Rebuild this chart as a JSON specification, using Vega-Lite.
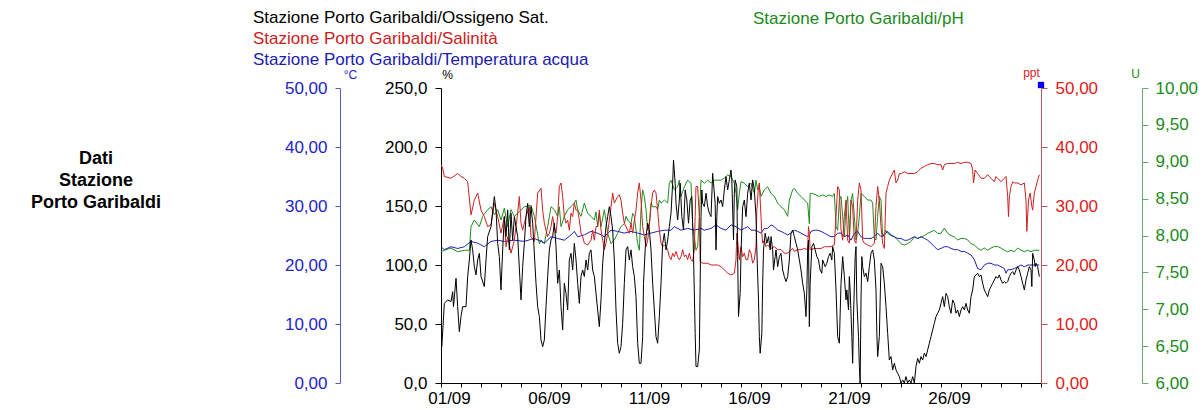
{
"$schema":"https://vega.github.io/schema/vega-lite/v6.json",
"width":600,"height":295,
"autosize":{"type":"none"},
"padding":{"left":441,"top":88,"right":163,"bottom":27},
"background":"white",
"config":{"view":{"stroke":null},"font":"Liberation Sans","axis":{"grid":false,"labelFont":"Liberation Sans","labelFontSize":17,"titleFont":"Liberation Sans","titleFontWeight":"normal","titleFontSize":12}},
"title":{"text":["Dati","Stazione","Porto Garibaldi"],"orient":"top","anchor":"start","frame":"group","align":"center","baseline":"top","dx":-345,"dy":203,"offset":0,"font":"Liberation Sans","fontSize":18,"fontWeight":"bold","color":"black","lineHeight":22},
"datasets":{
"ox":[
{"t":"2024-09-01T00:00","v":33.7},{"t":"2024-09-01T01:00","v":30.8},{"t":"2024-09-01T04:00","v":67.5},{"t":"2024-09-01T08:00","v":70.4},{"t":"2024-09-01T12:00","v":69.0},{"t":"2024-09-01T14:00","v":77.4},{"t":"2024-09-01T15:00","v":64.7},{"t":"2024-09-01T18:00","v":88.7},{"t":"2024-09-01T20:00","v":64.7},{"t":"2024-09-01T22:00","v":43.5},
{"t":"2024-09-02T00:00","v":56.3},{"t":"2024-09-02T02:00","v":64.7},{"t":"2024-09-02T06:00","v":64.7},{"t":"2024-09-02T08:00","v":90.2},{"t":"2024-09-02T10:00","v":104.3},{"t":"2024-09-02T12:00","v":121.2},{"t":"2024-09-02T14:00","v":112.8},{"t":"2024-09-02T16:00","v":98.6},{"t":"2024-09-02T18:00","v":91.6},{"t":"2024-09-02T20:00","v":104.3},{"t":"2024-09-02T22:00","v":109.9},
{"t":"2024-09-03T00:00","v":90.2},{"t":"2024-09-03T04:00","v":81.7},{"t":"2024-09-03T06:00","v":104.3},{"t":"2024-09-03T08:00","v":124.1},{"t":"2024-09-03T12:00","v":132.5},{"t":"2024-09-03T16:00","v":158.0},{"t":"2024-09-03T18:00","v":146.7},{"t":"2024-09-03T20:00","v":118.4},{"t":"2024-09-03T22:00","v":107.1},
{"t":"2024-09-04T00:00","v":78.9},{"t":"2024-09-04T02:00","v":112.8},{"t":"2024-09-04T04:00","v":141.0},{"t":"2024-09-04T06:00","v":124.1},{"t":"2024-09-04T08:00","v":146.7},{"t":"2024-09-04T10:00","v":112.8},{"t":"2024-09-04T12:00","v":143.8},{"t":"2024-09-04T14:00","v":121.2},{"t":"2024-09-04T16:00","v":141.0},{"t":"2024-09-04T20:00","v":124.1},
{"t":"2024-09-05T00:00","v":70.4},{"t":"2024-09-05T02:00","v":98.6},{"t":"2024-09-05T04:00","v":118.4},{"t":"2024-09-05T06:00","v":141.0},{"t":"2024-09-05T08:00","v":152.3},{"t":"2024-09-05T10:00","v":132.5},{"t":"2024-09-05T12:00","v":149.5},{"t":"2024-09-05T14:00","v":135.4},{"t":"2024-09-05T18:00","v":84.5},{"t":"2024-09-05T20:00","v":64.7},{"t":"2024-09-05T22:00","v":56.3},
{"t":"2024-09-06T00:00","v":36.5},{"t":"2024-09-06T02:00","v":30.8},{"t":"2024-09-06T04:00","v":36.5},{"t":"2024-09-06T06:00","v":64.7},{"t":"2024-09-06T08:00","v":90.2},{"t":"2024-09-06T10:00","v":112.8},{"t":"2024-09-06T12:00","v":121.2},{"t":"2024-09-06T14:00","v":124.1},{"t":"2024-09-06T16:00","v":135.4},{"t":"2024-09-06T18:00","v":115.6},{"t":"2024-09-06T20:00","v":84.5},{"t":"2024-09-06T22:00","v":95.8},
{"t":"2024-09-07T00:00","v":64.7},{"t":"2024-09-07T02:00","v":45.0},{"t":"2024-09-07T04:00","v":84.5},{"t":"2024-09-07T06:00","v":76.0},{"t":"2024-09-07T08:00","v":61.9},{"t":"2024-09-07T10:00","v":104.3},{"t":"2024-09-07T12:00","v":109.9},{"t":"2024-09-07T14:00","v":95.8},{"t":"2024-09-07T16:00","v":118.4},{"t":"2024-09-07T18:00","v":104.3},{"t":"2024-09-07T20:00","v":84.5},{"t":"2024-09-07T22:00","v":67.5},
{"t":"2024-09-08T00:00","v":90.2},{"t":"2024-09-08T02:00","v":95.8},{"t":"2024-09-08T04:00","v":90.2},{"t":"2024-09-08T06:00","v":104.3},{"t":"2024-09-08T08:00","v":95.8},{"t":"2024-09-08T10:00","v":109.9},{"t":"2024-09-08T12:00","v":112.8},{"t":"2024-09-08T14:00","v":95.8},{"t":"2024-09-08T16:00","v":90.2},{"t":"2024-09-08T18:00","v":76.0},{"t":"2024-09-08T20:00","v":61.9},{"t":"2024-09-08T22:00","v":47.8},
{"t":"2024-09-09T00:00","v":70.4},{"t":"2024-09-09T02:00","v":101.5},{"t":"2024-09-09T04:00","v":118.4},{"t":"2024-09-09T06:00","v":132.5},{"t":"2024-09-09T08:00","v":141.0},{"t":"2024-09-09T10:00","v":149.5},{"t":"2024-09-09T12:00","v":141.0},{"t":"2024-09-09T14:00","v":129.7},{"t":"2024-09-09T16:00","v":104.3},{"t":"2024-09-09T18:00","v":61.9},{"t":"2024-09-09T20:00","v":33.7},{"t":"2024-09-09T22:00","v":25.2},
{"t":"2024-09-10T00:00","v":30.8},{"t":"2024-09-10T02:00","v":50.6},{"t":"2024-09-10T04:00","v":84.5},{"t":"2024-09-10T06:00","v":112.8},{"t":"2024-09-10T08:00","v":115.6},{"t":"2024-09-10T10:00","v":104.3},{"t":"2024-09-10T12:00","v":112.8},{"t":"2024-09-10T14:00","v":98.6},{"t":"2024-09-10T16:00","v":90.2},{"t":"2024-09-10T18:00","v":73.2},{"t":"2024-09-10T20:00","v":33.7},{"t":"2024-09-10T22:00","v":16.7},
{"t":"2024-09-11T00:00","v":16.7},{"t":"2024-09-11T02:00","v":39.3},{"t":"2024-09-11T03:00","v":84.5},{"t":"2024-09-11T05:00","v":112.8},{"t":"2024-09-11T06:00","v":124.1},{"t":"2024-09-11T08:00","v":135.4},{"t":"2024-09-11T10:00","v":129.7},{"t":"2024-09-11T12:00","v":112.8},{"t":"2024-09-11T14:00","v":84.5},{"t":"2024-09-11T16:00","v":61.9},{"t":"2024-09-11T18:00","v":39.3},{"t":"2024-09-11T20:00","v":33.7},{"t":"2024-09-11T22:00","v":56.3},
{"t":"2024-09-12T00:00","v":84.5},{"t":"2024-09-12T02:00","v":118.4},{"t":"2024-09-12T04:00","v":126.9},{"t":"2024-09-12T06:00","v":112.8},{"t":"2024-09-12T08:00","v":121.2},{"t":"2024-09-12T10:00","v":132.5},{"t":"2024-09-12T12:00","v":143.8},{"t":"2024-09-12T14:00","v":169.3},{"t":"2024-09-12T15:00","v":189.0},{"t":"2024-09-12T17:00","v":169.3},{"t":"2024-09-12T18:00","v":152.3},{"t":"2024-09-12T20:00","v":138.2},{"t":"2024-09-12T22:00","v":155.1},{"t":"2024-09-12T23:00","v":169.3},
{"t":"2024-09-13T01:00","v":141.0},{"t":"2024-09-13T03:00","v":129.7},{"t":"2024-09-13T05:00","v":163.6},{"t":"2024-09-13T07:00","v":155.1},{"t":"2024-09-13T09:00","v":135.4},{"t":"2024-09-13T11:00","v":155.1},{"t":"2024-09-13T13:00","v":158.0},{"t":"2024-09-13T15:00","v":109.9},{"t":"2024-09-13T17:00","v":42.1},{"t":"2024-09-13T18:00","v":13.9},{"t":"2024-09-13T20:00","v":13.9},{"t":"2024-09-13T22:00","v":28.0},{"t":"2024-09-13T23:00","v":84.5},
{"t":"2024-09-14T00:00","v":141.0},{"t":"2024-09-14T01:00","v":163.6},{"t":"2024-09-14T02:00","v":152.3},{"t":"2024-09-14T04:00","v":149.5},{"t":"2024-09-14T06:00","v":160.8},{"t":"2024-09-14T08:00","v":149.5},{"t":"2024-09-14T10:00","v":143.8},{"t":"2024-09-14T12:00","v":141.0},{"t":"2024-09-14T14:00","v":177.7},{"t":"2024-09-14T15:00","v":169.3},{"t":"2024-09-14T17:00","v":152.3},{"t":"2024-09-14T18:00","v":112.8},{"t":"2024-09-14T19:00","v":141.0},{"t":"2024-09-14T20:00","v":158.0},{"t":"2024-09-14T22:00","v":152.3},
{"t":"2024-09-15T00:00","v":155.1},{"t":"2024-09-15T02:00","v":149.5},{"t":"2024-09-15T04:00","v":163.6},{"t":"2024-09-15T06:00","v":174.9},{"t":"2024-09-15T08:00","v":163.6},{"t":"2024-09-15T10:00","v":172.1},{"t":"2024-09-15T12:00","v":180.5},{"t":"2024-09-15T13:00","v":172.1},{"t":"2024-09-15T15:00","v":121.2},{"t":"2024-09-15T16:00","v":160.8},{"t":"2024-09-15T17:00","v":172.1},{"t":"2024-09-15T19:00","v":166.4},{"t":"2024-09-15T20:00","v":107.1},{"t":"2024-09-15T21:00","v":56.3},{"t":"2024-09-15T23:00","v":76.0},
{"t":"2024-09-16T00:00","v":110.0},{"t":"2024-09-16T02:00","v":149.5},{"t":"2024-09-16T04:00","v":155.1},{"t":"2024-09-16T06:00","v":141.0},{"t":"2024-09-16T08:00","v":160.8},{"t":"2024-09-16T10:00","v":169.3},{"t":"2024-09-16T12:00","v":155.1},{"t":"2024-09-16T14:00","v":172.1},{"t":"2024-09-16T16:00","v":163.6},{"t":"2024-09-16T18:00","v":141.0},{"t":"2024-09-16T19:00","v":112.8},{"t":"2024-09-16T21:00","v":70.4},{"t":"2024-09-16T22:00","v":39.3},{"t":"2024-09-16T23:00","v":25.2},
{"t":"2024-09-17T01:00","v":42.1},{"t":"2024-09-17T02:00","v":84.5},{"t":"2024-09-17T03:00","v":112.8},{"t":"2024-09-17T05:00","v":126.9},{"t":"2024-09-17T07:00","v":118.4},{"t":"2024-09-17T09:00","v":124.1},{"t":"2024-09-17T11:00","v":112.8},{"t":"2024-09-17T12:00","v":124.1},{"t":"2024-09-17T14:00","v":112.8},{"t":"2024-09-17T15:00","v":95.8},{"t":"2024-09-17T17:00","v":107.1},{"t":"2024-09-17T18:00","v":112.8},{"t":"2024-09-17T20:00","v":98.6},{"t":"2024-09-17T22:00","v":107.1},
{"t":"2024-09-18T00:00","v":109.9},{"t":"2024-09-18T02:00","v":95.8},{"t":"2024-09-18T04:00","v":90.2},{"t":"2024-09-18T06:00","v":85.9},{"t":"2024-09-18T08:00","v":90.2},{"t":"2024-09-18T10:00","v":104.3},{"t":"2024-09-18T12:00","v":126.9},{"t":"2024-09-18T14:00","v":129.7},{"t":"2024-09-18T16:00","v":124.1},{"t":"2024-09-18T18:00","v":118.4},{"t":"2024-09-18T20:00","v":112.8},{"t":"2024-09-18T22:00","v":104.3},
{"t":"2024-09-19T00:00","v":95.8},{"t":"2024-09-19T02:00","v":84.5},{"t":"2024-09-19T04:00","v":76.0},{"t":"2024-09-19T06:00","v":56.3},{"t":"2024-09-19T07:00","v":78.9},{"t":"2024-09-19T08:00","v":112.8},{"t":"2024-09-19T09:00","v":121.2},{"t":"2024-09-19T10:00","v":47.8},{"t":"2024-09-19T11:00","v":84.5},{"t":"2024-09-19T13:00","v":115.6},{"t":"2024-09-19T15:00","v":118.4},{"t":"2024-09-19T17:00","v":112.8},{"t":"2024-09-19T19:00","v":107.1},{"t":"2024-09-19T21:00","v":104.3},{"t":"2024-09-19T23:00","v":95.8},
{"t":"2024-09-20T01:00","v":93.0},{"t":"2024-09-20T02:00","v":104.3},{"t":"2024-09-20T05:00","v":98.6},{"t":"2024-09-20T07:00","v":101.5},{"t":"2024-09-20T09:00","v":107.1},{"t":"2024-09-20T11:00","v":109.9},{"t":"2024-09-20T13:00","v":104.3},{"t":"2024-09-20T14:00","v":115.6},{"t":"2024-09-20T16:00","v":109.9},{"t":"2024-09-20T18:00","v":78.9},{"t":"2024-09-20T20:00","v":39.3},{"t":"2024-09-20T22:00","v":33.7},
{"t":"2024-09-21T00:00","v":84.5},{"t":"2024-09-21T02:00","v":107.1},{"t":"2024-09-21T04:00","v":90.2},{"t":"2024-09-21T06:00","v":70.4},{"t":"2024-09-21T07:00","v":78.9},{"t":"2024-09-21T09:00","v":61.9},{"t":"2024-09-21T10:00","v":90.2},{"t":"2024-09-21T11:00","v":78.9},{"t":"2024-09-21T13:00","v":39.3},{"t":"2024-09-21T14:00","v":16.7},{"t":"2024-09-21T15:00","v":56.3},{"t":"2024-09-21T17:00","v":107.1},{"t":"2024-09-21T18:00","v":115.6},{"t":"2024-09-21T19:00","v":70.4},{"t":"2024-09-21T21:00","v":39.3},{"t":"2024-09-21T22:00","v":13.9},{"t":"2024-09-21T23:00","v":0},
{"t":"2024-09-22T00:00","v":70.4},{"t":"2024-09-22T01:00","v":107.1},{"t":"2024-09-22T02:00","v":98.6},{"t":"2024-09-22T04:00","v":90.2},{"t":"2024-09-22T06:00","v":93.0},{"t":"2024-09-22T08:00","v":85.9},{"t":"2024-09-22T10:00","v":98.6},{"t":"2024-09-22T12:00","v":109.9},{"t":"2024-09-22T14:00","v":112.8},{"t":"2024-09-22T16:00","v":104.3},{"t":"2024-09-22T18:00","v":78.9},{"t":"2024-09-22T19:00","v":42.1},{"t":"2024-09-22T20:00","v":22.4},{"t":"2024-09-22T22:00","v":39.3},{"t":"2024-09-22T23:00","v":70.4},
{"t":"2024-09-23T00:00","v":101.5},{"t":"2024-09-23T02:00","v":98.6},{"t":"2024-09-23T04:00","v":84.5},{"t":"2024-09-23T06:00","v":64.7},{"t":"2024-09-23T08:00","v":42.1},{"t":"2024-09-23T10:00","v":19.5},{"t":"2024-09-23T12:00","v":22.4},{"t":"2024-09-23T14:00","v":11.1},{"t":"2024-09-23T16:00","v":16.7},{"t":"2024-09-23T18:00","v":11.1},{"t":"2024-09-23T20:00","v":8.2},{"t":"2024-09-23T22:00","v":5.4},
{"t":"2024-09-24T00:00","v":0},{"t":"2024-09-24T02:00","v":2.6},{"t":"2024-09-24T04:00","v":0},{"t":"2024-09-24T06:00","v":5.4},{"t":"2024-09-24T08:00","v":0},{"t":"2024-09-24T10:00","v":2.6},{"t":"2024-09-24T12:00","v":0},{"t":"2024-09-24T14:00","v":5.4},{"t":"2024-09-24T16:00","v":0},{"t":"2024-09-24T18:00","v":13.9},{"t":"2024-09-24T20:00","v":20.9},{"t":"2024-09-24T22:00","v":16.7},
{"t":"2024-09-25T00:00","v":22.4},{"t":"2024-09-25T02:00","v":19.5},{"t":"2024-09-25T04:00","v":25.2},{"t":"2024-09-25T06:00","v":22.4},{"t":"2024-09-25T08:00","v":28.0},{"t":"2024-09-25T10:00","v":33.7},{"t":"2024-09-25T12:00","v":39.3},{"t":"2024-09-25T14:00","v":45.0},{"t":"2024-09-25T16:00","v":50.6},{"t":"2024-09-25T18:00","v":56.3},{"t":"2024-09-25T20:00","v":59.1},{"t":"2024-09-25T22:00","v":61.9},
{"t":"2024-09-26T00:00","v":67.5},{"t":"2024-09-26T02:00","v":73.2},{"t":"2024-09-26T04:00","v":64.7},{"t":"2024-09-26T06:00","v":76.0},{"t":"2024-09-26T08:00","v":73.2},{"t":"2024-09-26T10:00","v":64.7},{"t":"2024-09-26T12:00","v":59.1},{"t":"2024-09-26T14:00","v":70.4},{"t":"2024-09-26T16:00","v":67.5},{"t":"2024-09-26T18:00","v":59.1},{"t":"2024-09-26T20:00","v":61.9},{"t":"2024-09-26T22:00","v":56.3},
{"t":"2024-09-27T00:00","v":61.9},{"t":"2024-09-27T02:00","v":64.7},{"t":"2024-09-27T04:00","v":61.9},{"t":"2024-09-27T06:00","v":67.5},{"t":"2024-09-27T08:00","v":61.9},{"t":"2024-09-27T10:00","v":59.1},{"t":"2024-09-27T12:00","v":73.2},{"t":"2024-09-27T14:00","v":78.9},{"t":"2024-09-27T16:00","v":90.2},{"t":"2024-09-27T18:00","v":91.6},{"t":"2024-09-27T20:00","v":93.0},{"t":"2024-09-27T22:00","v":90.2},
{"t":"2024-09-28T00:00","v":91.6},{"t":"2024-09-28T02:00","v":84.5},{"t":"2024-09-28T04:00","v":78.9},{"t":"2024-09-28T06:00","v":76.0},{"t":"2024-09-28T08:00","v":73.2},{"t":"2024-09-28T10:00","v":78.9},{"t":"2024-09-28T12:00","v":81.7},{"t":"2024-09-28T14:00","v":84.5},{"t":"2024-09-28T16:00","v":87.3},{"t":"2024-09-28T18:00","v":90.2},{"t":"2024-09-28T20:00","v":88.7},{"t":"2024-09-28T22:00","v":91.6},
{"t":"2024-09-29T00:00","v":87.3},{"t":"2024-09-29T02:00","v":84.5},{"t":"2024-09-29T04:00","v":85.9},{"t":"2024-09-29T06:00","v":84.5},{"t":"2024-09-29T08:00","v":85.9},{"t":"2024-09-29T10:00","v":90.2},{"t":"2024-09-29T12:00","v":93.0},{"t":"2024-09-29T14:00","v":94.4},{"t":"2024-09-29T16:00","v":91.6},{"t":"2024-09-29T18:00","v":95.8},{"t":"2024-09-29T20:00","v":98.6},{"t":"2024-09-29T22:00","v":95.8},
{"t":"2024-09-30T00:00","v":90.2},{"t":"2024-09-30T02:00","v":84.5},{"t":"2024-09-30T04:00","v":78.9},{"t":"2024-09-30T06:00","v":87.3},{"t":"2024-09-30T08:00","v":93.0},{"t":"2024-09-30T10:00","v":98.6},{"t":"2024-09-30T12:00","v":95.8},{"t":"2024-09-30T13:00","v":81.7},{"t":"2024-09-30T14:00","v":109.9},{"t":"2024-09-30T16:00","v":104.3},{"t":"2024-09-30T17:00","v":98.6},{"t":"2024-09-30T18:00","v":101.5},{"t":"2024-09-30T20:00","v":98.6},{"t":"2024-09-30T22:00","v":90.2}
],
"sal":[
{"t":"2024-09-01T00:00","v":37.0},{"t":"2024-09-01T02:00","v":36.4},{"t":"2024-09-01T04:00","v":35.0},{"t":"2024-09-01T12:00","v":34.7},{"t":"2024-09-01T20:00","v":35.5},{"t":"2024-09-02T00:00","v":35.0},{"t":"2024-09-02T04:00","v":34.7},{"t":"2024-09-02T08:00","v":34.1},{"t":"2024-09-02T12:00","v":28.5},{"t":"2024-09-02T16:00","v":31.0},{"t":"2024-09-02T20:00","v":32.2},
{"t":"2024-09-03T00:00","v":29.3},{"t":"2024-09-03T04:00","v":28.2},{"t":"2024-09-03T08:00","v":26.5},{"t":"2024-09-03T12:00","v":26.8},{"t":"2024-09-03T16:00","v":30.5},{"t":"2024-09-03T20:00","v":28.2},{"t":"2024-09-04T00:00","v":25.4},{"t":"2024-09-04T04:00","v":28.2},{"t":"2024-09-04T06:00","v":23.1},{"t":"2024-09-04T08:00","v":24.8},{"t":"2024-09-04T12:00","v":22.0},{"t":"2024-09-04T16:00","v":24.2},{"t":"2024-09-04T20:00","v":28.8},{"t":"2024-09-04T22:00","v":31.6},
{"t":"2024-09-05T00:00","v":27.1},{"t":"2024-09-05T02:00","v":25.9},{"t":"2024-09-05T06:00","v":28.2},{"t":"2024-09-05T10:00","v":29.9},{"t":"2024-09-05T12:00","v":24.8},{"t":"2024-09-05T16:00","v":24.0},{"t":"2024-09-05T20:00","v":32.2},
{"t":"2024-09-06T00:00","v":33.0},{"t":"2024-09-06T02:00","v":29.3},{"t":"2024-09-06T04:00","v":27.1},{"t":"2024-09-06T06:00","v":25.9},{"t":"2024-09-06T08:00","v":24.8},{"t":"2024-09-06T10:00","v":25.4},{"t":"2024-09-06T12:00","v":26.5},{"t":"2024-09-06T14:00","v":28.2},{"t":"2024-09-06T16:00","v":26.5},{"t":"2024-09-06T18:00","v":25.4},{"t":"2024-09-06T20:00","v":28.2},{"t":"2024-09-06T22:00","v":33.3},
{"t":"2024-09-07T00:00","v":33.9},{"t":"2024-09-07T02:00","v":31.6},{"t":"2024-09-07T04:00","v":28.2},{"t":"2024-09-07T06:00","v":27.1},{"t":"2024-09-07T08:00","v":27.6},{"t":"2024-09-07T10:00","v":25.9},{"t":"2024-09-07T12:00","v":28.8},{"t":"2024-09-07T14:00","v":28.2},{"t":"2024-09-07T16:00","v":30.5},{"t":"2024-09-07T18:00","v":29.3},{"t":"2024-09-07T20:00","v":29.3},{"t":"2024-09-07T22:00","v":27.6},
{"t":"2024-09-08T00:00","v":25.4},{"t":"2024-09-08T02:00","v":24.8},{"t":"2024-09-08T04:00","v":23.7},{"t":"2024-09-08T08:00","v":23.4},{"t":"2024-09-08T12:00","v":24.2},{"t":"2024-09-08T14:00","v":25.9},{"t":"2024-09-08T16:00","v":24.2},{"t":"2024-09-08T18:00","v":26.5},{"t":"2024-09-08T20:00","v":26.5},{"t":"2024-09-08T22:00","v":29.3},
{"t":"2024-09-09T00:00","v":25.9},{"t":"2024-09-09T02:00","v":24.2},{"t":"2024-09-09T04:00","v":22.6},{"t":"2024-09-09T06:00","v":23.7},{"t":"2024-09-09T08:00","v":25.4},{"t":"2024-09-09T10:00","v":27.6},{"t":"2024-09-09T12:00","v":29.9},{"t":"2024-09-09T14:00","v":32.2},{"t":"2024-09-09T16:00","v":30.5},{"t":"2024-09-09T20:00","v":31.6},{"t":"2024-09-09T22:00","v":31.9},
{"t":"2024-09-10T00:00","v":31.0},{"t":"2024-09-10T02:00","v":28.8},{"t":"2024-09-10T04:00","v":27.1},{"t":"2024-09-10T08:00","v":25.9},{"t":"2024-09-10T10:00","v":25.4},{"t":"2024-09-10T12:00","v":27.1},{"t":"2024-09-10T14:00","v":25.4},{"t":"2024-09-10T16:00","v":27.6},{"t":"2024-09-10T18:00","v":29.3},{"t":"2024-09-10T20:00","v":32.2},{"t":"2024-09-10T22:00","v":33.9},
{"t":"2024-09-11T00:00","v":31.0},{"t":"2024-09-11T02:00","v":26.5},{"t":"2024-09-11T04:00","v":24.8},{"t":"2024-09-11T06:00","v":23.1},{"t":"2024-09-11T08:00","v":24.2},{"t":"2024-09-11T10:00","v":26.5},{"t":"2024-09-11T12:00","v":29.9},{"t":"2024-09-11T14:00","v":32.2},{"t":"2024-09-11T16:00","v":32.7},{"t":"2024-09-11T18:00","v":32.2},{"t":"2024-09-11T20:00","v":29.3},{"t":"2024-09-11T22:00","v":25.9},
{"t":"2024-09-12T00:00","v":23.7},{"t":"2024-09-12T02:00","v":23.1},{"t":"2024-09-12T04:00","v":23.4},{"t":"2024-09-12T06:00","v":23.1},{"t":"2024-09-12T08:00","v":22.6},{"t":"2024-09-12T10:00","v":21.4},{"t":"2024-09-12T12:00","v":20.9},{"t":"2024-09-12T14:00","v":22.0},{"t":"2024-09-12T16:00","v":21.4},{"t":"2024-09-12T18:00","v":22.3},{"t":"2024-09-12T20:00","v":21.4},{"t":"2024-09-12T22:00","v":20.9},
{"t":"2024-09-13T00:00","v":21.4},{"t":"2024-09-13T02:00","v":22.6},{"t":"2024-09-13T04:00","v":21.4},{"t":"2024-09-13T06:00","v":21.7},{"t":"2024-09-13T08:00","v":20.9},{"t":"2024-09-13T10:00","v":22.0},{"t":"2024-09-13T12:00","v":20.9},{"t":"2024-09-13T14:00","v":20.6},{"t":"2024-09-13T16:00","v":22.6},{"t":"2024-09-13T17:00","v":28.2},{"t":"2024-09-13T18:00","v":33.3},{"t":"2024-09-13T20:00","v":33.3},{"t":"2024-09-13T22:00","v":28.2},{"t":"2024-09-13T23:00","v":20.6},
{"t":"2024-09-14T02:00","v":20.3},{"t":"2024-09-14T08:00","v":20.3},{"t":"2024-09-14T12:00","v":20.0},{"t":"2024-09-14T20:00","v":20.0},{"t":"2024-09-15T00:00","v":19.7},{"t":"2024-09-15T04:00","v":19.2},{"t":"2024-09-15T08:00","v":18.6},{"t":"2024-09-15T12:00","v":18.3},{"t":"2024-09-15T16:00","v":18.6},{"t":"2024-09-15T18:00","v":20.9},{"t":"2024-09-15T19:00","v":25.4},{"t":"2024-09-15T21:00","v":22.6},{"t":"2024-09-15T22:00","v":20.9},
{"t":"2024-09-16T00:00","v":23.1},{"t":"2024-09-16T02:00","v":21.4},{"t":"2024-09-16T04:00","v":22.0},{"t":"2024-09-16T06:00","v":20.9},{"t":"2024-09-16T08:00","v":20.9},{"t":"2024-09-16T10:00","v":22.6},{"t":"2024-09-16T12:00","v":22.0},{"t":"2024-09-16T14:00","v":20.3},{"t":"2024-09-16T16:00","v":20.9},{"t":"2024-09-16T18:00","v":23.1},{"t":"2024-09-16T19:00","v":29.3},{"t":"2024-09-16T21:00","v":33.3},{"t":"2024-09-16T22:00","v":33.9},
{"t":"2024-09-17T00:00","v":28.2},{"t":"2024-09-17T01:00","v":25.4},{"t":"2024-09-17T02:00","v":23.7},{"t":"2024-09-17T04:00","v":24.2},{"t":"2024-09-17T06:00","v":23.1},{"t":"2024-09-17T08:00","v":23.4},{"t":"2024-09-17T12:00","v":22.8},{"t":"2024-09-17T16:00","v":23.1},{"t":"2024-09-17T20:00","v":22.6},
{"t":"2024-09-18T00:00","v":22.6},{"t":"2024-09-18T04:00","v":22.0},{"t":"2024-09-18T08:00","v":22.0},{"t":"2024-09-18T12:00","v":22.6},{"t":"2024-09-18T14:00","v":22.8},{"t":"2024-09-18T16:00","v":22.3},{"t":"2024-09-18T20:00","v":22.6},
{"t":"2024-09-19T00:00","v":22.6},{"t":"2024-09-19T04:00","v":22.8},{"t":"2024-09-19T08:00","v":22.6},{"t":"2024-09-19T09:00","v":26.5},{"t":"2024-09-19T10:00","v":25.4},{"t":"2024-09-19T11:00","v":22.6},{"t":"2024-09-19T16:00","v":22.8},{"t":"2024-09-19T20:00","v":22.8},
{"t":"2024-09-20T00:00","v":22.8},{"t":"2024-09-20T04:00","v":23.1},{"t":"2024-09-20T08:00","v":23.1},{"t":"2024-09-20T12:00","v":23.1},{"t":"2024-09-20T16:00","v":23.4},{"t":"2024-09-20T18:00","v":28.2},{"t":"2024-09-20T20:00","v":33.3},{"t":"2024-09-20T22:00","v":32.7},
{"t":"2024-09-21T00:00","v":26.0},{"t":"2024-09-21T02:00","v":24.2},{"t":"2024-09-21T04:00","v":28.2},{"t":"2024-09-21T06:00","v":31.0},{"t":"2024-09-21T08:00","v":24.2},{"t":"2024-09-21T10:00","v":23.7},{"t":"2024-09-21T12:00","v":31.0},{"t":"2024-09-21T14:00","v":29.9},{"t":"2024-09-21T16:00","v":24.2},{"t":"2024-09-21T18:00","v":23.7},{"t":"2024-09-21T20:00","v":31.0},{"t":"2024-09-21T22:00","v":33.9},
{"t":"2024-09-22T00:00","v":32.7},{"t":"2024-09-22T02:00","v":24.2},{"t":"2024-09-22T04:00","v":23.7},{"t":"2024-09-22T08:00","v":23.4},{"t":"2024-09-22T12:00","v":23.1},{"t":"2024-09-22T16:00","v":23.7},{"t":"2024-09-22T18:00","v":29.9},{"t":"2024-09-22T20:00","v":33.3},{"t":"2024-09-22T22:00","v":31.0},
{"t":"2024-09-23T00:00","v":26.5},{"t":"2024-09-23T02:00","v":23.7},{"t":"2024-09-23T04:00","v":22.8},{"t":"2024-09-23T06:00","v":32.2},{"t":"2024-09-23T08:00","v":33.3},{"t":"2024-09-23T10:00","v":34.4},{"t":"2024-09-23T12:00","v":35.0},{"t":"2024-09-23T16:00","v":36.1},{"t":"2024-09-23T18:00","v":33.9},{"t":"2024-09-23T20:00","v":34.4},{"t":"2024-09-23T22:00","v":35.5},
{"t":"2024-09-24T00:00","v":35.5},{"t":"2024-09-24T04:00","v":35.8},{"t":"2024-09-24T08:00","v":35.5},{"t":"2024-09-24T12:00","v":35.5},{"t":"2024-09-24T16:00","v":35.5},{"t":"2024-09-24T20:00","v":35.8},
{"t":"2024-09-25T00:00","v":36.4},{"t":"2024-09-25T04:00","v":36.7},{"t":"2024-09-25T08:00","v":37.0},{"t":"2024-09-25T12:00","v":37.2},{"t":"2024-09-25T16:00","v":37.2},{"t":"2024-09-25T20:00","v":37.0},
{"t":"2024-09-26T00:00","v":37.0},{"t":"2024-09-26T02:00","v":36.1},{"t":"2024-09-26T04:00","v":37.0},{"t":"2024-09-26T08:00","v":37.2},{"t":"2024-09-26T12:00","v":37.2},{"t":"2024-09-26T16:00","v":37.2},{"t":"2024-09-26T20:00","v":37.4},
{"t":"2024-09-27T00:00","v":37.2},{"t":"2024-09-27T04:00","v":37.4},{"t":"2024-09-27T08:00","v":37.4},{"t":"2024-09-27T12:00","v":37.2},{"t":"2024-09-27T14:00","v":36.1},{"t":"2024-09-27T15:00","v":33.9},{"t":"2024-09-27T17:00","v":36.1},{"t":"2024-09-27T20:00","v":35.5},
{"t":"2024-09-28T00:00","v":34.7},{"t":"2024-09-28T04:00","v":34.7},{"t":"2024-09-28T08:00","v":35.3},{"t":"2024-09-28T12:00","v":34.7},{"t":"2024-09-28T16:00","v":34.1},{"t":"2024-09-28T18:00","v":35.0},{"t":"2024-09-28T20:00","v":34.7},
{"t":"2024-09-29T00:00","v":34.1},{"t":"2024-09-29T04:00","v":34.7},{"t":"2024-09-29T06:00","v":35.0},{"t":"2024-09-29T08:00","v":31.6},{"t":"2024-09-29T09:00","v":28.2},{"t":"2024-09-29T10:00","v":31.6},{"t":"2024-09-29T12:00","v":33.3},{"t":"2024-09-29T14:00","v":34.1},{"t":"2024-09-29T16:00","v":33.9},{"t":"2024-09-29T20:00","v":33.9},
{"t":"2024-09-30T00:00","v":33.6},{"t":"2024-09-30T04:00","v":33.9},{"t":"2024-09-30T06:00","v":31.0},{"t":"2024-09-30T07:00","v":25.7},{"t":"2024-09-30T09:00","v":31.0},{"t":"2024-09-30T11:00","v":32.2},{"t":"2024-09-30T13:00","v":29.9},{"t":"2024-09-30T14:00","v":29.3},{"t":"2024-09-30T16:00","v":32.2},{"t":"2024-09-30T18:00","v":33.3},{"t":"2024-09-30T20:00","v":34.4},{"t":"2024-09-30T22:00","v":35.3}
],
"temp":[
{"t":"2024-09-01T00:00","v":23.1},{"t":"2024-09-01T04:00","v":22.6},{"t":"2024-09-01T12:00","v":23.1},{"t":"2024-09-01T20:00","v":22.8},{"t":"2024-09-02T04:00","v":23.1},{"t":"2024-09-02T12:00","v":24.0},{"t":"2024-09-02T20:00","v":23.7},{"t":"2024-09-03T04:00","v":23.1},{"t":"2024-09-03T12:00","v":24.0},{"t":"2024-09-03T20:00","v":24.2},{"t":"2024-09-04T04:00","v":24.0},{"t":"2024-09-04T16:00","v":24.2},{"t":"2024-09-05T04:00","v":24.0},{"t":"2024-09-05T16:00","v":24.5},
{"t":"2024-09-06T00:00","v":24.0},{"t":"2024-09-06T04:00","v":23.7},{"t":"2024-09-06T12:00","v":24.8},{"t":"2024-09-06T20:00","v":24.5},{"t":"2024-09-07T04:00","v":24.2},{"t":"2024-09-07T12:00","v":25.1},{"t":"2024-09-07T16:00","v":25.7},{"t":"2024-09-07T20:00","v":24.8},{"t":"2024-09-08T04:00","v":25.1},{"t":"2024-09-08T12:00","v":25.7},{"t":"2024-09-08T20:00","v":25.4},{"t":"2024-09-09T04:00","v":24.8},{"t":"2024-09-09T12:00","v":25.9},{"t":"2024-09-09T20:00","v":25.7},{"t":"2024-09-10T04:00","v":25.4},{"t":"2024-09-10T12:00","v":25.7},{"t":"2024-09-10T20:00","v":25.4},
{"t":"2024-09-11T04:00","v":25.1},{"t":"2024-09-11T12:00","v":25.4},{"t":"2024-09-11T20:00","v":25.7},{"t":"2024-09-12T04:00","v":25.9},{"t":"2024-09-12T12:00","v":25.9},{"t":"2024-09-12T16:00","v":26.5},{"t":"2024-09-13T00:00","v":25.9},{"t":"2024-09-13T08:00","v":26.2},{"t":"2024-09-13T16:00","v":25.9},{"t":"2024-09-14T00:00","v":26.2},{"t":"2024-09-14T04:00","v":25.9},{"t":"2024-09-14T12:00","v":26.2},{"t":"2024-09-14T18:00","v":26.8},{"t":"2024-09-15T00:00","v":26.2},{"t":"2024-09-15T06:00","v":25.9},{"t":"2024-09-15T12:00","v":26.8},{"t":"2024-09-15T18:00","v":26.5},
{"t":"2024-09-16T00:00","v":25.9},{"t":"2024-09-16T04:00","v":26.2},{"t":"2024-09-16T08:00","v":26.5},{"t":"2024-09-16T12:00","v":25.9},{"t":"2024-09-16T16:00","v":25.9},{"t":"2024-09-16T20:00","v":25.7},{"t":"2024-09-17T00:00","v":25.4},{"t":"2024-09-17T04:00","v":26.2},{"t":"2024-09-17T08:00","v":26.2},{"t":"2024-09-17T12:00","v":26.8},{"t":"2024-09-17T16:00","v":26.5},{"t":"2024-09-17T20:00","v":25.9},{"t":"2024-09-18T00:00","v":25.7},{"t":"2024-09-18T04:00","v":25.4},{"t":"2024-09-18T08:00","v":25.1},{"t":"2024-09-18T12:00","v":25.4},{"t":"2024-09-18T16:00","v":25.9},{"t":"2024-09-18T20:00","v":25.7},
{"t":"2024-09-19T00:00","v":25.4},{"t":"2024-09-19T04:00","v":25.1},{"t":"2024-09-19T08:00","v":24.8},{"t":"2024-09-19T10:00","v":25.1},{"t":"2024-09-19T12:00","v":25.7},{"t":"2024-09-19T16:00","v":25.9},{"t":"2024-09-19T20:00","v":25.9},{"t":"2024-09-20T00:00","v":25.7},{"t":"2024-09-20T04:00","v":25.4},{"t":"2024-09-20T08:00","v":25.1},{"t":"2024-09-20T12:00","v":24.8},{"t":"2024-09-20T16:00","v":24.8},{"t":"2024-09-20T20:00","v":25.4},
{"t":"2024-09-21T00:00","v":25.4},{"t":"2024-09-21T04:00","v":24.8},{"t":"2024-09-21T08:00","v":25.1},{"t":"2024-09-21T12:00","v":24.2},{"t":"2024-09-21T16:00","v":25.4},{"t":"2024-09-21T20:00","v":25.7},{"t":"2024-09-22T00:00","v":24.8},{"t":"2024-09-22T04:00","v":24.5},{"t":"2024-09-22T08:00","v":24.5},{"t":"2024-09-22T12:00","v":24.5},{"t":"2024-09-22T16:00","v":24.8},{"t":"2024-09-22T20:00","v":25.4},{"t":"2024-09-23T00:00","v":24.8},{"t":"2024-09-23T04:00","v":25.1},{"t":"2024-09-23T08:00","v":25.7},{"t":"2024-09-23T12:00","v":25.1},{"t":"2024-09-23T16:00","v":24.8},{"t":"2024-09-23T20:00","v":24.5},
{"t":"2024-09-24T00:00","v":24.5},{"t":"2024-09-24T04:00","v":24.2},{"t":"2024-09-24T08:00","v":24.2},{"t":"2024-09-24T12:00","v":24.5},{"t":"2024-09-24T16:00","v":24.8},{"t":"2024-09-24T20:00","v":24.5},{"t":"2024-09-25T00:00","v":24.8},{"t":"2024-09-25T04:00","v":24.5},{"t":"2024-09-25T08:00","v":24.2},{"t":"2024-09-25T12:00","v":23.7},{"t":"2024-09-25T16:00","v":23.1},{"t":"2024-09-25T20:00","v":22.6},
{"t":"2024-09-26T00:00","v":22.8},{"t":"2024-09-26T04:00","v":23.1},{"t":"2024-09-26T08:00","v":23.1},{"t":"2024-09-26T12:00","v":22.8},{"t":"2024-09-26T16:00","v":22.6},{"t":"2024-09-26T20:00","v":22.6},{"t":"2024-09-27T00:00","v":22.3},{"t":"2024-09-27T04:00","v":22.3},{"t":"2024-09-27T08:00","v":22.0},{"t":"2024-09-27T12:00","v":21.7},{"t":"2024-09-27T16:00","v":20.9},{"t":"2024-09-27T20:00","v":19.4},
{"t":"2024-09-28T00:00","v":19.2},{"t":"2024-09-28T04:00","v":20.0},{"t":"2024-09-28T08:00","v":20.3},{"t":"2024-09-28T12:00","v":20.3},{"t":"2024-09-28T16:00","v":20.0},{"t":"2024-09-28T20:00","v":20.0},{"t":"2024-09-29T00:00","v":19.7},{"t":"2024-09-29T04:00","v":19.4},{"t":"2024-09-29T06:00","v":18.6},{"t":"2024-09-29T08:00","v":19.2},{"t":"2024-09-29T12:00","v":19.2},{"t":"2024-09-29T16:00","v":19.4},{"t":"2024-09-29T20:00","v":19.7},
{"t":"2024-09-30T00:00","v":20.0},{"t":"2024-09-30T04:00","v":19.7},{"t":"2024-09-30T08:00","v":20.0},{"t":"2024-09-30T12:00","v":20.0},{"t":"2024-09-30T16:00","v":20.0},{"t":"2024-09-30T22:00","v":20.0}
],
"ph":[
{"t":"2024-09-01T00:00","v":7.78},{"t":"2024-09-01T04:00","v":7.80},{"t":"2024-09-01T12:00","v":7.83},{"t":"2024-09-01T20:00","v":7.78},{"t":"2024-09-02T04:00","v":7.80},{"t":"2024-09-02T10:00","v":7.80},{"t":"2024-09-02T12:00","v":8.12},{"t":"2024-09-02T16:00","v":8.21},{"t":"2024-09-02T22:00","v":8.12},
{"t":"2024-09-03T02:00","v":8.26},{"t":"2024-09-03T08:00","v":8.35},{"t":"2024-09-03T12:00","v":8.39},{"t":"2024-09-03T16:00","v":8.28},{"t":"2024-09-03T20:00","v":8.35},{"t":"2024-09-04T00:00","v":8.21},{"t":"2024-09-04T04:00","v":8.37},{"t":"2024-09-04T08:00","v":8.12},{"t":"2024-09-04T12:00","v":8.35},{"t":"2024-09-04T16:00","v":8.26},{"t":"2024-09-04T22:00","v":8.32},
{"t":"2024-09-05T04:00","v":8.39},{"t":"2024-09-05T12:00","v":8.41},{"t":"2024-09-05T16:00","v":8.26},{"t":"2024-09-05T22:00","v":7.89},{"t":"2024-09-06T00:00","v":7.94},{"t":"2024-09-06T04:00","v":7.89},{"t":"2024-09-06T08:00","v":8.12},{"t":"2024-09-06T12:00","v":8.39},{"t":"2024-09-06T16:00","v":8.35},{"t":"2024-09-06T20:00","v":8.26},{"t":"2024-09-06T22:00","v":8.39},
{"t":"2024-09-07T00:00","v":8.12},{"t":"2024-09-07T04:00","v":8.26},{"t":"2024-09-07T08:00","v":8.35},{"t":"2024-09-07T12:00","v":8.39},{"t":"2024-09-07T16:00","v":8.44},{"t":"2024-09-07T18:00","v":8.48},{"t":"2024-09-07T20:00","v":8.35},{"t":"2024-09-08T00:00","v":8.26},{"t":"2024-09-08T04:00","v":8.44},{"t":"2024-09-08T08:00","v":8.30},{"t":"2024-09-08T12:00","v":8.26},{"t":"2024-09-08T16:00","v":8.21},{"t":"2024-09-08T18:00","v":8.32},{"t":"2024-09-08T20:00","v":8.12},{"t":"2024-09-08T22:00","v":8.30},
{"t":"2024-09-09T00:00","v":8.12},{"t":"2024-09-09T04:00","v":8.35},{"t":"2024-09-09T06:00","v":8.21},{"t":"2024-09-09T08:00","v":8.03},{"t":"2024-09-09T12:00","v":7.89},{"t":"2024-09-09T16:00","v":7.94},{"t":"2024-09-09T20:00","v":8.03},{"t":"2024-09-10T00:00","v":8.12},{"t":"2024-09-10T04:00","v":8.16},{"t":"2024-09-10T06:00","v":8.26},{"t":"2024-09-10T08:00","v":8.21},{"t":"2024-09-10T12:00","v":8.16},{"t":"2024-09-10T14:00","v":8.30},{"t":"2024-09-10T16:00","v":8.26},{"t":"2024-09-10T20:00","v":7.89},{"t":"2024-09-10T22:00","v":7.80},
{"t":"2024-09-11T00:00","v":8.35},{"t":"2024-09-11T02:00","v":8.62},{"t":"2024-09-11T04:00","v":8.53},{"t":"2024-09-11T06:00","v":8.35},{"t":"2024-09-11T08:00","v":8.07},{"t":"2024-09-11T10:00","v":8.16},{"t":"2024-09-11T12:00","v":8.44},{"t":"2024-09-11T14:00","v":8.39},{"t":"2024-09-11T18:00","v":8.39},{"t":"2024-09-11T20:00","v":8.35},{"t":"2024-09-11T22:00","v":8.48},
{"t":"2024-09-12T00:00","v":8.44},{"t":"2024-09-12T04:00","v":8.48},{"t":"2024-09-12T08:00","v":8.44},{"t":"2024-09-12T10:00","v":8.71},{"t":"2024-09-12T12:00","v":8.75},{"t":"2024-09-12T16:00","v":8.62},{"t":"2024-09-12T20:00","v":8.66},{"t":"2024-09-12T22:00","v":8.75},
{"t":"2024-09-13T00:00","v":8.53},{"t":"2024-09-13T04:00","v":8.66},{"t":"2024-09-13T08:00","v":8.75},{"t":"2024-09-13T12:00","v":8.71},{"t":"2024-09-13T14:00","v":8.12},{"t":"2024-09-13T16:00","v":7.98},{"t":"2024-09-13T18:00","v":7.80},{"t":"2024-09-13T20:00","v":7.85},{"t":"2024-09-13T22:00","v":8.26},
{"t":"2024-09-14T00:00","v":8.75},{"t":"2024-09-14T04:00","v":8.71},{"t":"2024-09-14T08:00","v":8.75},{"t":"2024-09-14T12:00","v":8.71},{"t":"2024-09-14T16:00","v":8.75},{"t":"2024-09-14T20:00","v":8.75},{"t":"2024-09-15T00:00","v":8.75},{"t":"2024-09-15T04:00","v":8.78},{"t":"2024-09-15T08:00","v":8.82},{"t":"2024-09-15T12:00","v":8.80},{"t":"2024-09-15T16:00","v":8.71},{"t":"2024-09-15T18:00","v":8.57},{"t":"2024-09-15T20:00","v":8.35},{"t":"2024-09-15T22:00","v":8.57},
{"t":"2024-09-16T00:00","v":8.73},{"t":"2024-09-16T04:00","v":8.71},{"t":"2024-09-16T08:00","v":8.66},{"t":"2024-09-16T12:00","v":8.71},{"t":"2024-09-16T16:00","v":8.57},{"t":"2024-09-16T18:00","v":8.75},{"t":"2024-09-16T20:00","v":8.62},{"t":"2024-09-16T22:00","v":8.66},
{"t":"2024-09-17T00:00","v":8.53},{"t":"2024-09-17T04:00","v":8.62},{"t":"2024-09-17T08:00","v":8.66},{"t":"2024-09-17T12:00","v":8.57},{"t":"2024-09-17T16:00","v":8.53},{"t":"2024-09-17T20:00","v":8.44},{"t":"2024-09-18T00:00","v":8.39},{"t":"2024-09-18T04:00","v":8.35},{"t":"2024-09-18T08:00","v":8.26},{"t":"2024-09-18T10:00","v":8.48},{"t":"2024-09-18T14:00","v":8.62},{"t":"2024-09-18T16:00","v":8.64},{"t":"2024-09-18T20:00","v":8.57},
{"t":"2024-09-19T00:00","v":8.53},{"t":"2024-09-19T04:00","v":8.48},{"t":"2024-09-19T08:00","v":8.44},{"t":"2024-09-19T10:00","v":8.16},{"t":"2024-09-19T11:00","v":8.57},{"t":"2024-09-19T14:00","v":8.57},{"t":"2024-09-19T18:00","v":8.55},{"t":"2024-09-19T22:00","v":8.53},{"t":"2024-09-20T02:00","v":8.55},{"t":"2024-09-20T06:00","v":8.53},{"t":"2024-09-20T10:00","v":8.55},{"t":"2024-09-20T14:00","v":8.53},{"t":"2024-09-20T16:00","v":8.57},{"t":"2024-09-20T18:00","v":8.12},{"t":"2024-09-20T20:00","v":8.07},{"t":"2024-09-20T22:00","v":8.48},
{"t":"2024-09-21T00:00","v":8.53},{"t":"2024-09-21T02:00","v":8.26},{"t":"2024-09-21T04:00","v":7.98},{"t":"2024-09-21T06:00","v":8.39},{"t":"2024-09-21T08:00","v":8.53},{"t":"2024-09-21T10:00","v":7.98},{"t":"2024-09-21T12:00","v":8.48},{"t":"2024-09-21T14:00","v":8.57},{"t":"2024-09-21T16:00","v":8.26},{"t":"2024-09-21T18:00","v":7.94},{"t":"2024-09-21T20:00","v":8.03},{"t":"2024-09-21T22:00","v":8.26},
{"t":"2024-09-22T00:00","v":8.57},{"t":"2024-09-22T04:00","v":8.53},{"t":"2024-09-22T08:00","v":8.48},{"t":"2024-09-22T12:00","v":8.48},{"t":"2024-09-22T14:00","v":8.44},{"t":"2024-09-22T16:00","v":7.98},{"t":"2024-09-22T18:00","v":7.94},{"t":"2024-09-22T20:00","v":8.26},{"t":"2024-09-22T22:00","v":8.53},
{"t":"2024-09-23T00:00","v":8.48},{"t":"2024-09-23T02:00","v":7.98},{"t":"2024-09-23T04:00","v":8.03},{"t":"2024-09-23T06:00","v":8.07},{"t":"2024-09-23T08:00","v":8.03},{"t":"2024-09-23T12:00","v":8.00},{"t":"2024-09-23T16:00","v":7.98},{"t":"2024-09-23T20:00","v":7.94},
{"t":"2024-09-24T00:00","v":7.89},{"t":"2024-09-24T04:00","v":7.87},{"t":"2024-09-24T08:00","v":7.89},{"t":"2024-09-24T12:00","v":7.92},{"t":"2024-09-24T16:00","v":7.98},{"t":"2024-09-24T20:00","v":7.96},{"t":"2024-09-25T00:00","v":7.98},{"t":"2024-09-25T04:00","v":8.00},{"t":"2024-09-25T08:00","v":8.03},{"t":"2024-09-25T12:00","v":8.05},{"t":"2024-09-25T16:00","v":8.07},{"t":"2024-09-25T20:00","v":8.03},
{"t":"2024-09-26T00:00","v":8.03},{"t":"2024-09-26T04:00","v":8.10},{"t":"2024-09-26T08:00","v":8.03},{"t":"2024-09-26T12:00","v":8.00},{"t":"2024-09-26T16:00","v":7.98},{"t":"2024-09-26T20:00","v":7.94},{"t":"2024-09-27T00:00","v":7.96},{"t":"2024-09-27T04:00","v":7.96},{"t":"2024-09-27T08:00","v":7.94},{"t":"2024-09-27T12:00","v":7.89},{"t":"2024-09-27T16:00","v":7.87},{"t":"2024-09-27T20:00","v":7.83},
{"t":"2024-09-28T00:00","v":7.80},{"t":"2024-09-28T04:00","v":7.83},{"t":"2024-09-28T08:00","v":7.80},{"t":"2024-09-28T12:00","v":7.83},{"t":"2024-09-28T16:00","v":7.85},{"t":"2024-09-28T20:00","v":7.85},{"t":"2024-09-29T00:00","v":7.83},{"t":"2024-09-29T04:00","v":7.80},{"t":"2024-09-29T08:00","v":7.78},{"t":"2024-09-29T12:00","v":7.80},{"t":"2024-09-29T16:00","v":7.78},{"t":"2024-09-29T20:00","v":7.83},
{"t":"2024-09-30T00:00","v":7.80},{"t":"2024-09-30T04:00","v":7.78},{"t":"2024-09-30T08:00","v":7.80},{"t":"2024-09-30T12:00","v":7.78},{"t":"2024-09-30T16:00","v":7.80},{"t":"2024-09-30T22:00","v":7.80}
],
"marker":[{"t":"2024-10-01T00:00","v":50}]
},
"encoding":{"x":{"field":"t","type":"temporal","scale":{"domain":[{"year":2024,"month":9,"date":1},{"year":2024,"month":10,"date":1}]},
"axis":{"title":null,"tickCount":{"interval":"day","step":1},"labelExpr":"(date(datum.value)-1)%5==0 && month(datum.value)==8 ? timeFormat(datum.value,'%d/%m') : ''","tickSize":4,"labelPadding":3,"labelOffset":8,"domainColor":"black","tickColor":"black","labelColor":"black","labelFlush":false,"labelOverlap":false,"labelBound":false}}},
"layer":[
{"data":{"name":"ph"},"mark":{"type":"line","strokeWidth":1,"clip":true},
"encoding":{"y":{"field":"v","type":"quantitative","scale":{"domain":[6,10],"zero":false,"nice":false},
"axis":{"orient":"right","offset":101,"title":"U","titleAngle":0,"titleX":-7,"titleY":-11,"titleAlign":"center","titleBaseline":"alphabetic","titleColor":"#1a8a1a","values":[6,6.5,7,7.5,8,8.5,9,9.5,10],"labelExpr":"replace(format(datum.value,'.2f'),'.',',')","labelColor":"#1a8a1a","domainColor":"#6aa86a","tickColor":"#6aa86a","tickSize":6,"labelPadding":7}},
"stroke":{"datum":"Stazione Porto Garibaldi/pH","type":"nominal","scale":{"range":["#1e8c1e"]},
"legend":{"orient":"none","legendX":295,"legendY":-78,"title":null,"symbolSize":0,"symbolStrokeWidth":0,"symbolOpacity":0,"labelOffset":0,"padding":0,"labelFont":"Liberation Sans","labelFontSize":17,"labelLimit":500,"labelColor":"#1a8a1a"}}}},
{"data":{"name":"temp"},"mark":{"type":"line","strokeWidth":1,"clip":true},
"encoding":{"y":{"field":"v","type":"quantitative","scale":{"domain":[0,50],"nice":false},
"axis":{"orient":"left","offset":101,"title":"°C","titleAngle":0,"titleX":10,"titleY":-10,"titleAlign":"center","titleBaseline":"alphabetic","titleColor":"#2323c8","values":[0,10,20,30,40,50],"labelExpr":"replace(format(datum.value,'.2f'),'.',',')","labelColor":"#2323c8","domainColor":"#5a5ab4","tickColor":"#5a5ab4","tickSize":5,"labelPadding":8}},
"color":{"datum":"Stazione Porto Garibaldi/Temperatura acqua","type":"nominal"}}},
{"layer":[
{"data":{"name":"sal"},"mark":{"type":"line","strokeWidth":1,"clip":true},
"encoding":{"y":{"field":"v","type":"quantitative","scale":{"domain":[0,50],"nice":false},
"axis":{"orient":"right","offset":0,"title":"ppt","titleAngle":0,"titleX":-10,"titleY":-12,"titleAlign":"center","titleBaseline":"alphabetic","titleColor":"#dd1b1b","values":[0,10,20,30,40,50],"labelExpr":"replace(format(datum.value,'.2f'),'.',',')","labelColor":"#dd1b1b","domainColor":"#b45a5a","tickColor":"#b45a5a","tickSize":6,"labelPadding":8}},
"color":{"datum":"Stazione Porto Garibaldi/Salinità","type":"nominal"}}},
{"data":{"name":"marker"},"mark":{"type":"square","size":40,"color":"#0000ee","opacity":1,"clip":false,"yOffset":-3},
"encoding":{"y":{"field":"v","type":"quantitative"}}}
]},
{"data":{"name":"ox"},"mark":{"type":"line","strokeWidth":1,"clip":true},
"encoding":{"y":{"field":"v","type":"quantitative","scale":{"domain":[0,250],"nice":false},
"axis":{"orient":"left","offset":0,"title":"%","titleAngle":0,"titleX":6,"titleY":-10,"titleAlign":"center","titleBaseline":"alphabetic","titleColor":"black","values":[0,50,100,150,200,250],"labelExpr":"replace(format(datum.value,'.1f'),'.',',')","labelColor":"black","domainColor":"black","tickColor":"black","tickSize":6,"labelPadding":8}},
"color":{"datum":"Stazione Porto Garibaldi/Ossigeno Sat.","type":"nominal","scale":{"domain":["Stazione Porto Garibaldi/Ossigeno Sat.","Stazione Porto Garibaldi/Salinità","Stazione Porto Garibaldi/Temperatura acqua"],"range":["#000000","#cc2020","#2020b0"]},
"legend":{"orient":"none","legendX":-205,"legendY":-79,"title":null,"symbolSize":0,"symbolStrokeWidth":0,"symbolOpacity":0,"labelOffset":0,"padding":0,"rowPadding":3,"labelFont":"Liberation Sans","labelFontSize":17,"labelLimit":500,"encode":{"labels":{"update":{"fill":{"scale":"color","field":"value"}}}}}}}}
],
"resolve":{"scale":{"y":"independent"},"axis":{"y":"independent"}}
}
